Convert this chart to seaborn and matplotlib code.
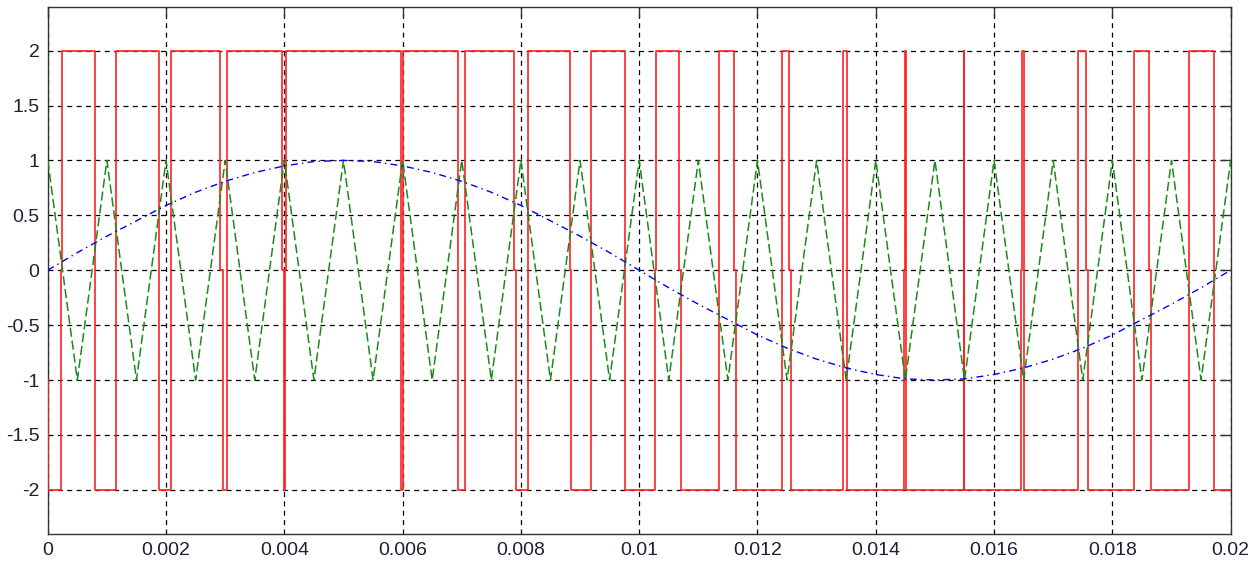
import matplotlib
matplotlib.use("Agg")
import matplotlib.pyplot as plt
import seaborn as sns

# sine reference (read every 0.0005 s)
sine_t = [0.0, 0.0005, 0.001, 0.0015, 0.002, 0.0025, 0.003, 0.0035, 0.004, 0.0045,
          0.005, 0.0055, 0.006, 0.0065, 0.007, 0.0075, 0.008, 0.0085, 0.009, 0.0095,
          0.01, 0.0105, 0.011, 0.0115, 0.012, 0.0125, 0.013, 0.0135, 0.014, 0.0145,
          0.015, 0.0155, 0.016, 0.0165, 0.017, 0.0175, 0.018, 0.0185, 0.019, 0.0195, 0.02]
sine_v = [0.0, 0.16, 0.31, 0.45, 0.59, 0.71, 0.81, 0.89, 0.95, 0.99,
          1.0, 0.99, 0.95, 0.89, 0.81, 0.71, 0.59, 0.45, 0.31, 0.16,
          0.0, -0.16, -0.31, -0.45, -0.59, -0.71, -0.81, -0.89, -0.95, -0.99,
          -1.0, -0.99, -0.95, -0.89, -0.81, -0.71, -0.59, -0.45, -0.31, -0.16, 0.0]

# triangle carrier vertices
tri_t = sine_t
tri_v = [1, -1, 1, -1, 1, -1, 1, -1, 1, -1,
         1, -1, 1, -1, 1, -1, 1, -1, 1, -1,
         1, -1, 1, -1, 1, -1, 1, -1, 1, -1,
         1, -1, 1, -1, 1, -1, 1, -1, 1, -1, 1]

# pwm output: switching instants and level held after each one
pwm_t = [0.0, 0.00001, 0.000216, 0.000245, 0.000803, 0.001158, 0.001885, 0.002088,
         0.002916, 0.002962, 0.003029, 0.003965, 0.004000, 0.004008, 0.004020,
         0.005971, 0.006005, 0.006940, 0.007047, 0.007876, 0.007921, 0.008112,
         0.008822, 0.008845, 0.009189, 0.009752, 0.010259, 0.010282, 0.010665,
         0.010705, 0.011353, 0.011606, 0.011635, 0.012412, 0.012536, 0.012570,
         0.013454, 0.013511, 0.014469, 0.014500, 0.014508, 0.014514, 0.015490,
         0.015500, 0.016458, 0.016480, 0.016514, 0.017427, 0.017552, 0.017586,
         0.018369, 0.018627, 0.018656, 0.019298, 0.019726, 0.02]
pwm_v = [-1, -2, 0, 2, -2, 2, -2, 2,
         0, -2, 2, 0, -2, 0, 2,
         -2, 2, -2, 2, 0, -2, 2,
         0, -2, 2, -2, 0, 2, 0,
         -2, 2, 0, -2, 2, 0, -2,
         2, -2, 0, 2, 0, -2, 2,
         -2, 0, 2, -2, 2, 0, -2,
         2, 0, -2, 2, -2, -2]

xticks = [0, 0.002, 0.004, 0.006, 0.008, 0.01, 0.012, 0.014, 0.016, 0.018, 0.02]
xlabels = ["0", "0.002", "0.004", "0.006", "0.008", "0.01", "0.012", "0.014", "0.016", "0.018", "0.02"]
yticks = [-2, -1.5, -1, -0.5, 0, 0.5, 1, 1.5, 2]
ylabels = ["-2", "-1.5", "-1", "-0.5", "0", "0.5", "1", "1.5", "2"]

sns.set_style("white")
plt.rcParams["font.family"] = ["Liberation Sans", "DejaVu Sans"]

fig = plt.figure(figsize=(12.6, 5.67), dpi=100)
ax = fig.add_axes([0.0379, 0.0587, 0.9388, 0.9295])

sns.lineplot(x=pwm_t, y=pwm_v, ax=ax, color="#ff2020", linewidth=1.2,
             drawstyle="steps-post", estimator=None, sort=False, zorder=3)
sns.lineplot(x=tri_t, y=tri_v, ax=ax, color="#1b8c1b", linewidth=1.1,
             linestyle=(0, (6, 2.5)), estimator=None, sort=False, zorder=4)
sns.lineplot(x=sine_t, y=sine_v, ax=ax, color="#0000ff", linewidth=1.0,
             linestyle=(0, (5, 3, 1, 3)), estimator=None, sort=False, zorder=5)

ax.set_xlim(0, 0.02)
ax.set_ylim(-2.4, 2.4)
ax.set_xticks(xticks)
ax.set_xticklabels(xlabels)
ax.set_yticks(yticks)
ax.set_yticklabels(ylabels)

ax.grid(True, color="black", linestyle=(0, (4, 3.5)), linewidth=0.9)
ax.set_axisbelow(True)
for s in ax.spines.values():
    s.set_visible(True)
    s.set_color("#333333")
    s.set_linewidth(1.0)
ax.tick_params(direction="in", length=7, width=1, color="#333333",
               top=True, right=True, labelsize=14, labelcolor="#202035", pad=6)

fig.savefig("out.png", dpi=100, facecolor="white")
